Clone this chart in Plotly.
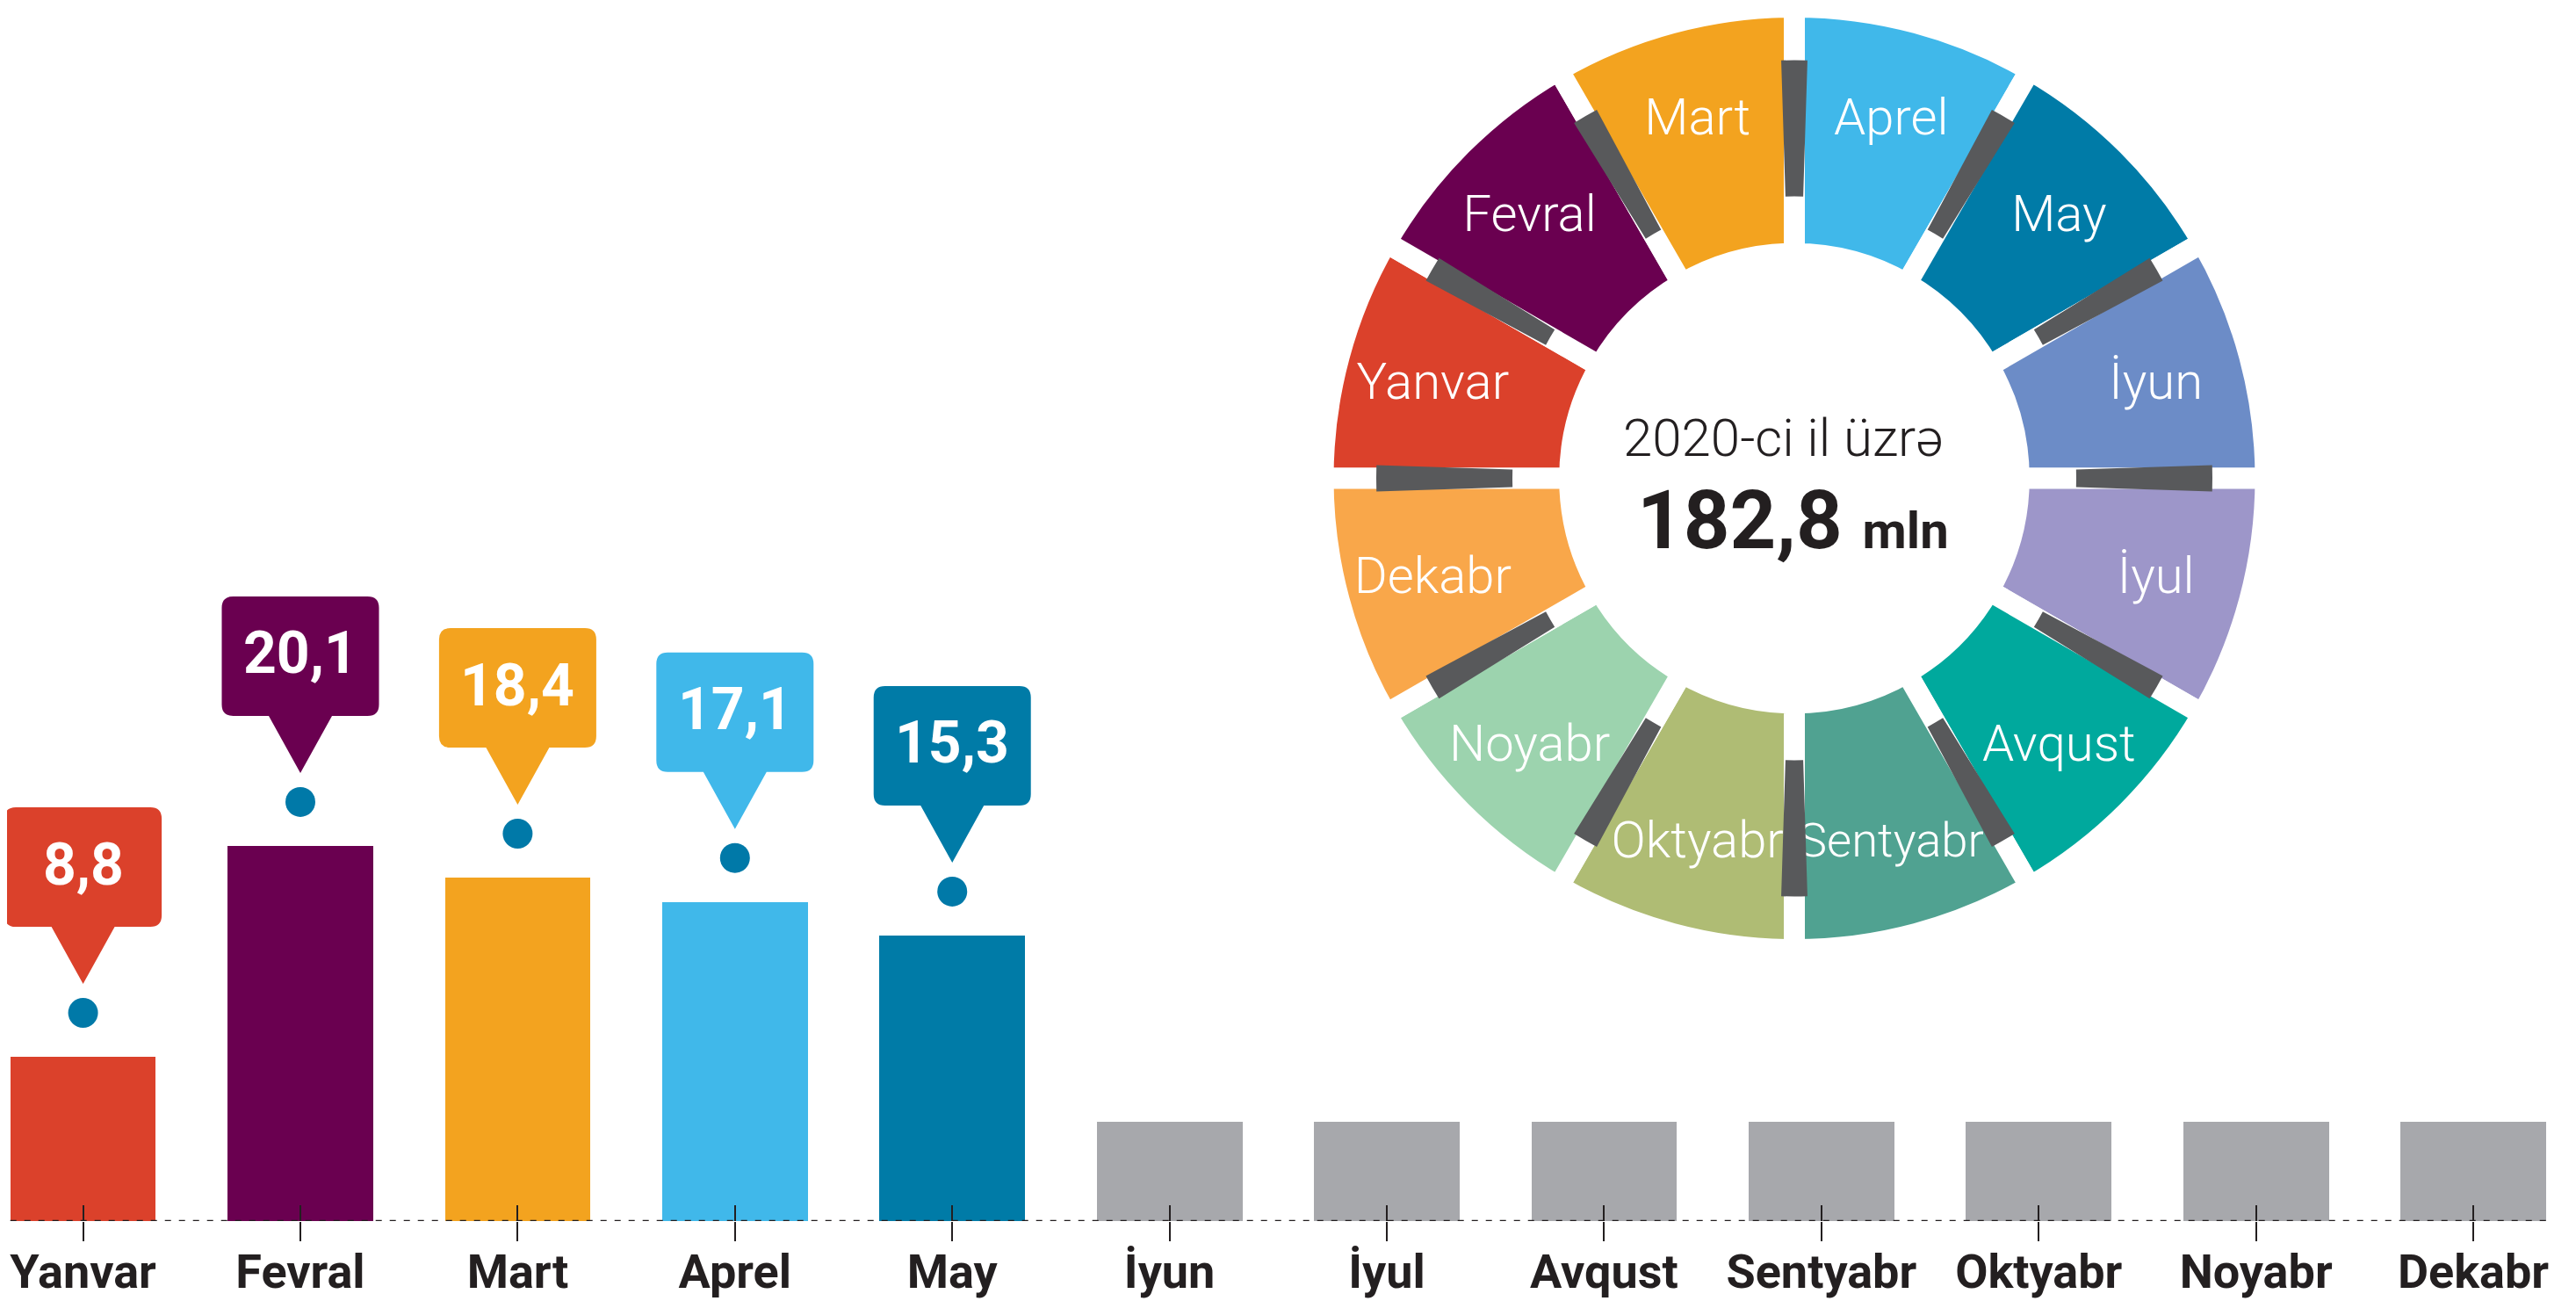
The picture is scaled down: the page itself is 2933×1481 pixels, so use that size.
import plotly.graph_objects as go

# ---------------- data ----------------
months = ["Yanvar", "Fevral", "Mart", "Aprel", "May", "İyun", "İyul",
          "Avqust", "Sentyabr", "Oktyabr", "Noyabr", "Dekabr"]
reported_months = ["Yanvar", "Fevral", "Mart", "Aprel", "May"]
reported_values = [8.8, 20.1, 18.4, 17.1, 15.3]
reported_labels = ["8,8", "20,1", "18,4", "17,1", "15,3"]
pending_months = ["İyun", "İyul", "Avqust", "Sentyabr", "Oktyabr", "Noyabr", "Dekabr"]
pending_values = [5.3, 5.3, 5.3, 5.3, 5.3, 5.3, 5.3]
wheel_share = [1, 1, 1, 1, 1, 1, 1, 1, 1, 1, 1, 1]
year_text = "2020-ci il üzrə"
total_text = "182,8"
unit_text = "mln"

# ---------------- style ----------------
month_colors = ["#DB412B", "#6A0050", "#F3A31F", "#40B8EA", "#007BA7", "#6C8CC7",
                "#9D96C9", "#00A99D", "#50A291", "#AFBC74", "#9CD3AE", "#F9A74A"]
pending_color = "#A7A8AC"
dot_color = "#0079A8"
connector_color = "#58595B"
ink = "#231F20"
FONT = "Roboto, sans-serif"

W, H = 2933, 1481
BASE_PX = 1382            # baseline position from top
PX_PER_UNIT = 21.25
BAR_W = 0.67
X_RANGE = [-0.35, 11.505]

fig = go.Figure()

fig.add_trace(go.Bar(
    x=reported_months, y=reported_values, width=BAR_W,
    marker=dict(color=month_colors[:len(reported_months)], line=dict(width=0)),
    hoverinfo="x+y", showlegend=False))
fig.add_trace(go.Bar(
    x=pending_months, y=pending_values, width=BAR_W,
    marker=dict(color=pending_color, line=dict(width=0)),
    hoverinfo="x", showlegend=False))
# invisible carrier trace for the upper half of the tick marks
fig.add_trace(go.Scatter(
    x=months, y=[0] * len(months), xaxis="x2", yaxis="y", mode="markers",
    marker=dict(opacity=0), hoverinfo="skip", showlegend=False))

# ---------------- callouts ----------------
hw, yb, yt, r = 89.5, 148, 284, 13
ph, tip = 36, 83
callout_path = (
    f"M {-ph},{yb} L 0,{tip} L {ph},{yb} L {hw - r},{yb} Q {hw},{yb} {hw},{yb + r} "
    f"L {hw},{yt - r} Q {hw},{yt} {hw - r},{yt} L {-hw + r},{yt} Q {-hw},{yt} {-hw},{yt - r} "
    f"L {-hw},{yb + r} Q {-hw},{yb} {-hw + r},{yb} Z")

shapes = []
annotations = []
for i, (m, v, lab) in enumerate(zip(reported_months, reported_values, reported_labels)):
    shapes.append(dict(type="path", xref="x", yref="y", xsizemode="pixel", ysizemode="pixel",
                       xanchor=m, yanchor=v, path=callout_path,
                       fillcolor=month_colors[i], line=dict(width=0), layer="above"))
    shapes.append(dict(type="circle", xref="x", yref="y", xsizemode="pixel", ysizemode="pixel",
                       xanchor=m, yanchor=v, x0=-17, x1=17, y0=33, y1=67,
                       fillcolor=dot_color, line=dict(width=0), layer="above"))
    annotations.append(dict(x=m, y=v, xref="x", yref="y", yshift=(yb + yt) / 2 + 3,
                            xanchor="center", yanchor="middle",
                            text=f"<b>{lab}</b>", showarrow=False,
                            font=dict(family=FONT, size=66, color="white")))

# dotted baseline
shapes.append(dict(type="line", xref="x", yref="y", x0=-BAR_W / 2, x1=len(months) - 1 + BAR_W / 2,
                   y0=0, y1=0, line=dict(color=ink, width=2.5, dash="7px,9px"), layer="above"))

# ---------------- wheel ----------------
CX, CY = 2035, 534
R_OUT, HOLE_PX, GAP = 539, 257, 24
R_CON_OUT, R_CON_IN, CON_DEG = 476, 321, 3.6


def dom(rad):
    cyp = (H - CY) / H
    return dict(x=[(CX - rad) / W, (CX + rad) / W], y=[cyp - rad / H, min(1.0, cyp + rad / H)])


wheel_dom = dom(R_OUT)
fig.add_trace(go.Pie(
    labels=months, values=wheel_share, sort=False, direction="clockwise", rotation=270,
    hole=HOLE_PX / R_OUT, domain=wheel_dom,
    marker=dict(colors=month_colors, line=dict(color="white", width=GAP)),
    textinfo="label", textposition="inside", insidetextorientation="horizontal",
    textfont=dict(family=FONT, size=58, color="white", weight=300),
    hoverinfo="label", showlegend=False))

# connectors share the (possibly clipped) centre of the wheel
wheel_cy = H * (1 - (wheel_dom["y"][0] + wheel_dom["y"][1]) / 2)
con_dom = dict(x=[(CX - R_CON_OUT) / W, (CX + R_CON_OUT) / W],
               y=[(H - wheel_cy - R_CON_OUT) / H, (H - wheel_cy + R_CON_OUT) / H])
con_vals, con_cols = [], []
for _ in months:
    con_vals += [CON_DEG, 30 - CON_DEG]
    con_cols += [connector_color, "rgba(0,0,0,0)"]
fig.add_trace(go.Pie(
    values=con_vals, sort=False, direction="clockwise", rotation=270 - CON_DEG / 2,
    hole=R_CON_IN / R_CON_OUT, domain=con_dom,
    marker=dict(colors=con_cols, line=dict(width=0)),
    textinfo="none", hoverinfo="skip", showlegend=False))

annotations.append(dict(x=2022 / W, y=(H - 491) / H, xref="paper", yref="paper",
                        xanchor="center", yanchor="middle",
                        text=year_text, showarrow=False,
                        font=dict(family=FONT, size=60, color=ink, weight=300)))
annotations.append(dict(x=2033 / W, y=(H - 584) / H, xref="paper", yref="paper",
                        xanchor="center", yanchor="middle",
                        text=f"<b>{total_text}</b> <b><span style='font-size:58px'>{unit_text}</span></b>",
                        showarrow=False, font=dict(family=FONT, size=92, color=ink)))

y_top = BASE_PX / PX_PER_UNIT

fig.update_layout(
    width=W, height=H, margin=dict(l=0, r=0, t=0, b=0, autoexpand=False),
    paper_bgcolor="white", plot_bgcolor="white",
    barmode="overlay", bargap=0,
    xaxis=dict(type="category", categoryorder="array", categoryarray=months, range=X_RANGE,
               ticks="outside", ticklen=22, tickwidth=2, tickcolor=ink, automargin=False,
               showline=False, showgrid=False, zeroline=False, ticklabelstandoff=-12,
               tickfont=dict(family=FONT, size=54, color=ink, weight="bold"), anchor="y"),
    xaxis2=dict(type="category", categoryorder="array", categoryarray=months, range=X_RANGE,
                overlaying="x", anchor="y", side="bottom", ticks="inside", ticklen=18,
                tickwidth=2, tickcolor=ink, showticklabels=False, showline=False,
                showgrid=False, zeroline=False, automargin=False),
    yaxis=dict(range=[0, y_top], domain=[(H - BASE_PX) / H, 1], visible=False,
               fixedrange=True, automargin=False),
    shapes=shapes, annotations=annotations,
)

fig.write_html("out.html")
